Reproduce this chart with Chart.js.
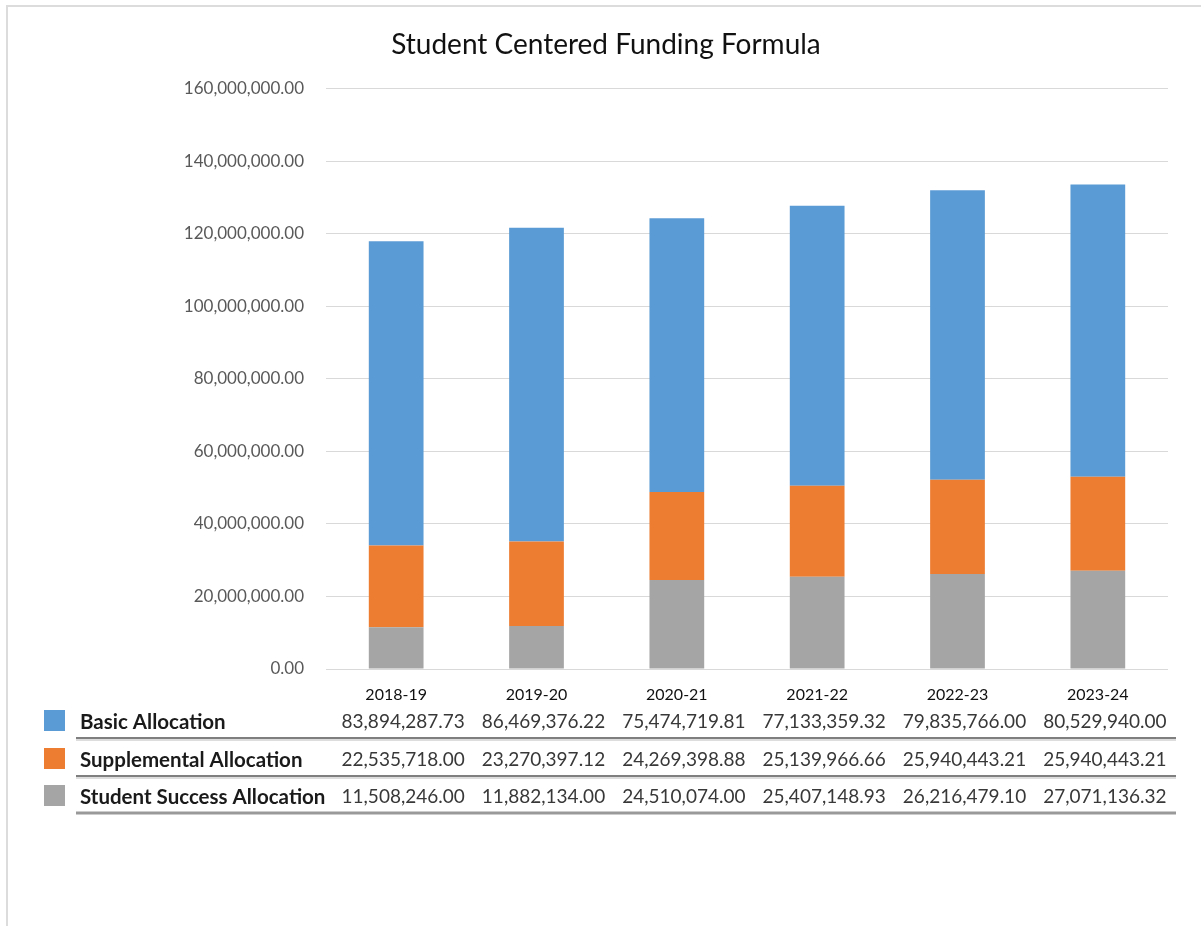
<!DOCTYPE html>
<html>
<head>
<meta charset="utf-8">
<script src="https://cdn.jsdelivr.net/npm/chart.js@4"></script>
<style>
  html, body { margin: 0; padding: 0; background: #fff; }
  #wrap { width: 1201px; height: 926px; }
</style>
</head>
<body>
<div id="wrap"><canvas id="c" width="1201" height="926"></canvas></div>
<script>
const categories = ['2018-19', '2019-20', '2020-21', '2021-22', '2022-23', '2023-24'];
const basicAllocation = [83894287.73, 86469376.22, 75474719.81, 77133359.32, 79835766.00, 80529940.00];
const supplementalAllocation = [22535718.00, 23270397.12, 24269398.88, 25139966.66, 25940443.21, 25940443.21];
const studentSuccessAllocation = [11508246.00, 11882134.00, 24510074.00, 25407148.93, 26216479.10, 27071136.32];
const seriesNames = ['Basic Allocation', 'Supplemental Allocation', 'Student Success Allocation'];
const yMin = 0, yMax = 160000000, yStep = 20000000;
const chartTitle = 'Student Centered Funding Formula';

const colors = { basic: '#5B9BD5', supp: '#ED7D31', success: '#A5A5A5' };
const FONT = 'Lato, "Open Sans", sans-serif';

const fmt = v => v.toLocaleString('en-US', { minimumFractionDigits: 2, maximumFractionDigits: 2 });

const frame = {
  id: 'frame',
  beforeDraw(chart) {
    const ctx = chart.ctx;
    ctx.save();
    ctx.fillStyle = '#fff';
    ctx.fillRect(0, 0, chart.width, chart.height);
    ctx.strokeStyle = '#dcdcdc';
    ctx.lineWidth = 2;
    ctx.beginPath();
    ctx.moveTo(7, chart.height);
    ctx.lineTo(7, 6);
    ctx.lineTo(chart.width, 6);
    ctx.stroke();
    ctx.restore();
  }
};

const dataTable = {
  id: 'dataTable',
  afterDraw(chart) {
    const ctx = chart.ctx;
    const xs = chart.scales.x;
    const rows = [
      { name: seriesNames[0], data: basicAllocation, color: colors.basic, y: 722 },
      { name: seriesNames[1], data: supplementalAllocation, color: colors.supp, y: 760 },
      { name: seriesNames[2], data: studentSuccessAllocation, color: colors.success, y: 797 }
    ];
    ctx.save();
    rows.forEach((r, ri) => {
      ctx.fillStyle = r.color;
      ctx.fillRect(44, r.y - 12, 21, 21);
      ctx.fillStyle = '#1a1a1a';
      ctx.font = 'bold 20.5px ' + FONT;
      ctx.textAlign = 'left';
      ctx.textBaseline = 'middle';
      ctx.fillText(r.name, 80, r.y);
      ctx.font = '19px ' + FONT;
      ctx.fillStyle = '#383838';
      ctx.textAlign = 'center';
      r.data.forEach((v, i) => {
        ctx.fillText(fmt(v), xs.getPixelForValue(i) + 7, r.y);
      });
      const ly = r.y + 16;
      if (ri < 2) {
        ctx.strokeStyle = '#555';
        ctx.lineWidth = 1.5;
        ctx.beginPath(); ctx.moveTo(76, ly); ctx.lineTo(1176, ly); ctx.stroke();
        ctx.strokeStyle = '#bbb';
        ctx.lineWidth = 1;
        ctx.beginPath(); ctx.moveTo(76, ly + 2); ctx.lineTo(1176, ly + 2); ctx.stroke();
      } else {
        ctx.strokeStyle = '#999';
        ctx.lineWidth = 3;
        ctx.beginPath(); ctx.moveTo(76, ly); ctx.lineTo(1176, ly); ctx.stroke();
      }
    });
    ctx.restore();
  }
};

new Chart(document.getElementById('c'), {
  type: 'bar',
  data: {
    labels: categories,
    datasets: [
      { label: seriesNames[2], data: studentSuccessAllocation, backgroundColor: colors.success },
      { label: seriesNames[1], data: supplementalAllocation, backgroundColor: colors.supp },
      { label: seriesNames[0], data: basicAllocation, backgroundColor: colors.basic }
    ]
  },
  options: {
    responsive: false,
    animation: false,
    devicePixelRatio: 1,
    layout: { padding: { top: 0, right: 33, bottom: 0, left: 44 } },
    datasets: { bar: { categoryPercentage: 1, barPercentage: 0.39 } },
    plugins: {
      legend: { display: false },
      tooltip: { enabled: false },
      title: {
        display: true,
        text: chartTitle,
        color: '#111',
        font: { family: FONT, size: 28, weight: 'normal' },
        padding: { top: 28, bottom: 27 }
      }
    },
    scales: {
      x: {
        stacked: true,
        grid: { display: false, drawTicks: false },
        border: { display: false },
        ticks: { color: '#111', font: { family: FONT, size: 16 }, padding: 16 },
        afterFit(s) { s.height = 926 - 669; }
      },
      y: {
        stacked: true,
        min: yMin, max: yMax,
        grid: { color: '#d9d9d9', drawTicks: false, lineWidth: 1 },
        border: { display: false },
        ticks: {
          stepSize: yStep,
          color: '#595959',
          font: { family: FONT, size: 17 },
          padding: 22,
          callback: v => fmt(v)
        },
        afterFit(s) { s.width = 326 - 44; }
      }
    }
  },
  plugins: [frame, dataTable]
});
</script>
</body>
</html>
